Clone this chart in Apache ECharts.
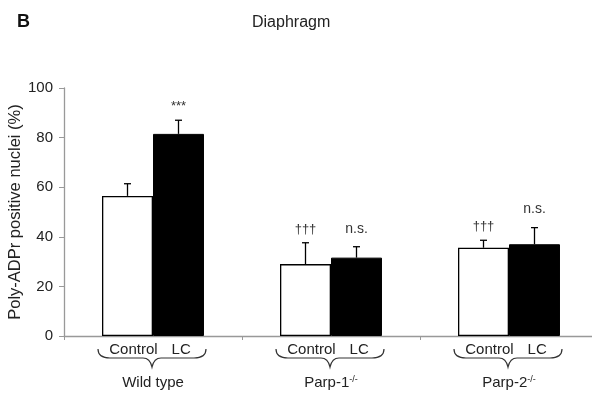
<!DOCTYPE html>
<html><head><meta charset="utf-8">
<script src="https://cdn.jsdelivr.net/npm/echarts@6/dist/echarts.min.js"></script>
<style>html,body{margin:0;padding:0;background:#fff}#c{width:592px;height:396px}</style>
</head><body><div id="c"></div>
<script>
var groups = ['Wild type', 'Parp-1', 'Parp-2'];
var groupSup = ['', '-/-', '-/-'];
var controlMean = [56.5, 29.0, 35.6];
var controlErr = [4.9, 8.6, 3.0];
var lcMean = [81.5, 31.6, 37.0];
var lcErr = [5.5, 4.4, 6.7];
var controlNotes = ['', '†††', '†††'];
var lcNotes = ['***', 'n.s.', 'n.s.'];
var yTicks = [0, 20, 40, 60, 80, 100];

var FONT = '"Liberation Sans", Arial, sans-serif';
var chart = echarts.init(document.getElementById('c'));
var BAR_FRAC = 0.2865;

function errSeries(name, means, errs, notes, side) {
  return {
    type: 'custom', name: name, z: 10,
    data: means.map(function (m, i) { return [i, m, errs[i]]; }),
    renderItem: function (params, api) {
      var i = api.value(0), m = api.value(1), e = api.value(2);
      var note = notes[i];
      var band = api.size([1, 0])[0];
      var cx = api.coord([i, 0])[0] + side * band * BAR_FRAC / 2;
      var y0 = api.coord([i, m])[1];
      var y1 = api.coord([i, m + e])[1];
      var children = [
        {type: 'line', shape: {x1: cx, y1: y0, x2: cx, y2: y1}, style: {stroke: '#000', lineWidth: 1.3}},
        {type: 'line', shape: {x1: cx - 3.5, y1: y1, x2: cx + 3.5, y2: y1}, style: {stroke: '#000', lineWidth: 1.3}}
      ];
      if (note) {
        var isNs = note === 'n.s.';
        children.push({type: 'text', style: {text: note, x: cx, y: y1 - (isNs ? 11 : 7), align: 'center', verticalAlign: 'bottom',
          font: (isNs ? '14px ' : '13px ') + FONT, fill: '#333'}});
      }
      return {type: 'group', children: children};
    }
  };
}

var braceSeries = {
  type: 'custom', name: 'braces', silent: true, clip: false, z: 20,
  data: groups.map(function (g, i) { return [i, 0]; }),
  renderItem: function (params, api) {
    var i = api.value(0);
    var cx = api.coord([i, 0])[0] - 1;
    var w = 54, y0 = 349, h = 9;
    var d = 'M' + (cx - w) + ',' + y0 +
      ' Q' + (cx - w) + ',' + (y0 + h) + ' ' + (cx - w + 12) + ',' + (y0 + h) +
      ' L' + (cx - 9) + ',' + (y0 + h) +
      ' Q' + (cx - 2) + ',' + (y0 + h) + ' ' + cx + ',' + (y0 + h + 9) +
      ' Q' + (cx + 2) + ',' + (y0 + h) + ' ' + (cx + 9) + ',' + (y0 + h) +
      ' L' + (cx + w - 12) + ',' + (y0 + h) +
      ' Q' + (cx + w) + ',' + (y0 + h) + ' ' + (cx + w) + ',' + y0;
    return {type: 'path', shape: {pathData: d}, style: {fill: null, stroke: '#333', lineWidth: 1.2}};
  }
};

var option = {
  animation: false,
  backgroundColor: '#fff',
  title: [
    {text: 'B', left: 17, top: 13, padding: 0, textStyle: {fontFamily: 'Liberation Sans, Arial', fontWeight: 'bold', fontSize: 18, color: '#111'}},
    {text: 'Diaphragm', left: 252, top: 15, padding: 0, textStyle: {fontFamily: 'Liberation Sans, Arial', fontWeight: 'normal', fontSize: 16, color: '#222'}}
  ],
  grid: {left: 64, right: -6, top: 88, bottom: 60, containLabel: false, outerBoundsMode: 'none'},
  xAxis: {
    type: 'category', data: groups,
    axisLine: {lineStyle: {color: '#999', width: 1.3}},
    axisTick: {show: true, alignWithLabel: false, length: 4, lineStyle: {color: '#999'}},
    axisLabel: {
      interval: 0, margin: 6,
      formatter: function (v, idx) {
        var g = '{g|' + v + '}' + (groupSup[idx] ? '{sup|' + groupSup[idx] + '}' : '');
        return '{c|Control}{sp| }{l|LC}\n{gap| }\n' + g;
      },
      rich: {
        c: {fontFamily: FONT, fontSize: 15, color: '#222', lineHeight: 16},
        sp: {fontSize: 15, width: 14, lineHeight: 16},
        l: {fontFamily: FONT, fontSize: 15, color: '#222', lineHeight: 16, padding: [0, 6, 0, 0]},
        gap: {fontSize: 10, lineHeight: 17, height: 17},
        g: {fontFamily: FONT, fontSize: 15, color: '#222', lineHeight: 16},
        sup: {fontFamily: FONT, fontSize: 9, color: '#222', lineHeight: 16, verticalAlign: 'top'}
      }
    }
  },
  yAxis: {
    type: 'value', min: 0, max: 100, interval: 20,
    name: 'Poly-ADPr positive nuclei (%)', nameLocation: 'middle', nameGap: 40, nameMoveOverlap: false,
    nameTextStyle: {fontFamily: FONT, fontSize: 16.5, color: '#222'},
    axisLine: {show: true, lineStyle: {color: '#999', width: 1.3}},
    axisTick: {show: true, length: 5, lineStyle: {color: '#999'}},
    splitLine: {show: false},
    axisLabel: {fontFamily: FONT, fontSize: 15, color: '#222', margin: 11,
      formatter: function (v) { return yTicks.indexOf(v) >= 0 ? String(v) : ''; }}
  },
  series: [
    {type: 'bar', name: 'Control', data: controlMean, barWidth: (BAR_FRAC * 100) + '%', barGap: '0%',
      itemStyle: {color: '#fff', borderColor: '#000', borderWidth: 1.3}},
    {type: 'bar', name: 'LC', data: lcMean, barWidth: (BAR_FRAC * 100) + '%', barGap: '0%',
      itemStyle: {color: '#000', borderColor: '#000', borderWidth: 1}},
    errSeries('ControlErr', controlMean, controlErr, controlNotes, -1),
    errSeries('LCErr', lcMean, lcErr, lcNotes, 1),
    braceSeries
  ]
};
chart.setOption(option);
</script></body></html>
